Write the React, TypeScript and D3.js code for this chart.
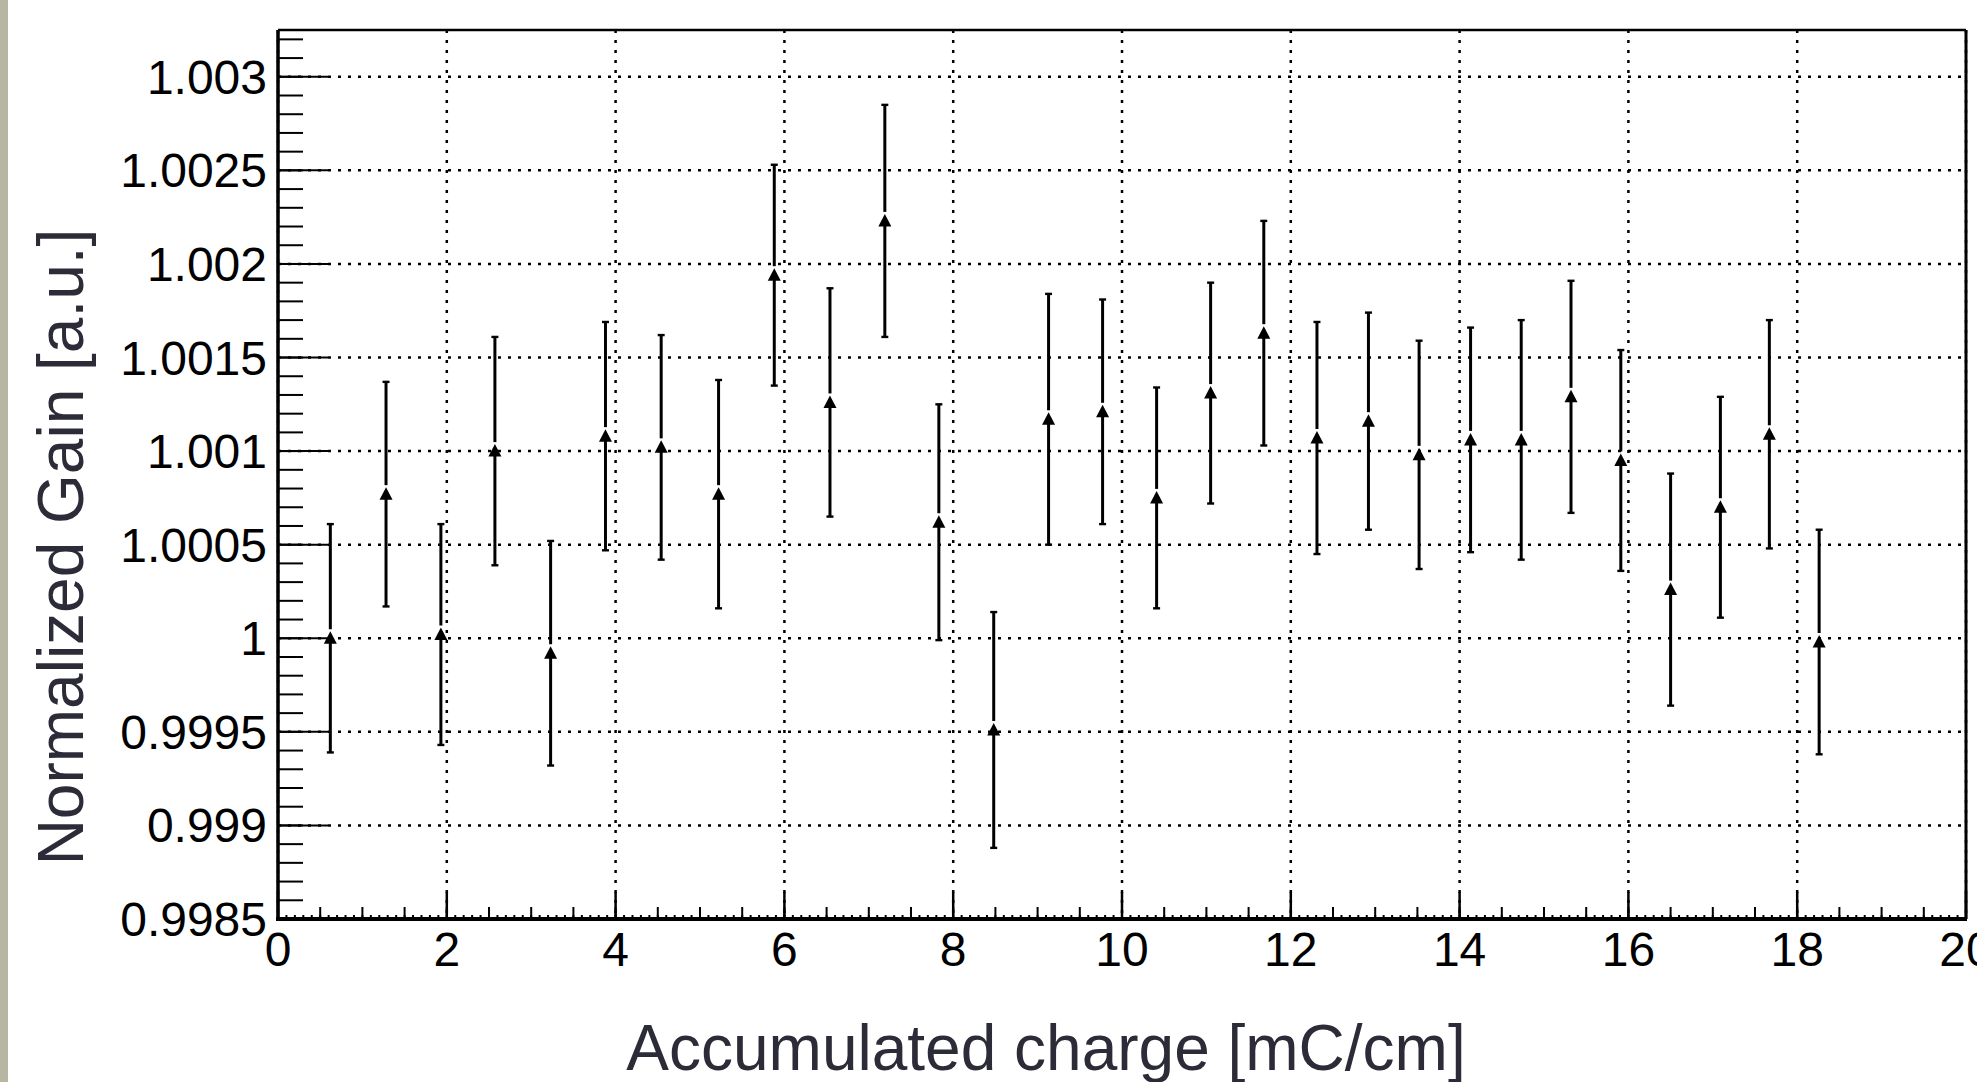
import React from "react";
import * as d3 from "d3";

const xCharge = [0.62, 1.28, 1.93, 2.57, 3.23, 3.88, 4.54, 5.22, 5.88, 6.54, 7.19, 7.83, 8.48, 9.13, 9.77, 10.41, 11.05, 11.68, 12.31, 12.92, 13.52, 14.13, 14.73, 15.32, 15.91, 16.5, 17.09, 17.67, 18.26];
const gainValues = [1.0, 1.00077, 1.00002, 1.001, 0.99992, 1.00108, 1.00102, 1.00077, 1.00194, 1.00126, 1.00223, 1.00062, 0.99951, 1.00117, 1.00121, 1.00075, 1.00131, 1.00163, 1.00107, 1.00116, 1.00098, 1.00106, 1.00106, 1.00129, 1.00095, 1.00026, 1.0007, 1.00109, 0.99998];
const gainErrors = [0.00061, 0.0006, 0.00059, 0.00061, 0.0006, 0.00061, 0.0006, 0.00061, 0.00059, 0.00061, 0.00062, 0.00063, 0.00063, 0.00067, 0.0006, 0.00059, 0.00059, 0.0006, 0.00062, 0.00058, 0.00061, 0.0006, 0.00064, 0.00062, 0.00059, 0.00062, 0.00059, 0.00061, 0.0006];
const xTickLabels = ["0", "2", "4", "6", "8", "10", "12", "14", "16", "18", "20"];
const yTickLabels = ["0.9985", "0.999", "0.9995", "1", "1.0005", "1.001", "1.0015", "1.002", "1.0025", "1.003"];

const FONT = "'Liberation Sans', Arial, Helvetica, sans-serif";

export default function App() {
  const W = 1977, H = 1082;
  const L = 278, R = 1966, T = 30, B = 919;
  const x = d3.scaleLinear().domain([0, 20]).range([L, R]);
  const y = d3.scaleLinear().domain([0.9985, 1.00325]).range([B, T]);

  const yMajor = yTickLabels.map((s) => +s);
  const yMinor = d3.range(0, 48).map((i) => 0.9985 + i * 0.0001).filter((v) => v <= 1.00325);
  const xMajor = xTickLabels.map((s) => +s);
  const xMid = d3.range(0, 41).map((i) => i * 0.5);
  const xSmall = d3.range(0, 201).map((i) => i * 0.1);

  const tri = (cx: number, cy: number) => `M${cx},${cy - 7} L${cx + 6.5},${cy + 5.5} L${cx - 6.5},${cy + 5.5} Z`;

  return (
    <svg width={W} height={H} style={{ position: "absolute", left: 0, top: 0, background: "#fff" }} fontFamily={FONT}>
      <rect x={0} y={0} width={W} height={H} fill="#fff" />
      <rect x={0} y={0} width={8} height={H} fill="#b7b6a2" />

      {/* grid */}
      {xMajor.map((v, i) => (
        <line key={"gx" + i} x1={x(v)} x2={x(v)} y1={T} y2={B} stroke="#000" strokeWidth={2.5} strokeDasharray="3,7" />
      ))}
      {yMajor.map((v, i) => (
        <line key={"gy" + i} x1={L} x2={R} y1={y(v)} y2={y(v)} stroke="#000" strokeWidth={2.5} strokeDasharray="3,7" />
      ))}

      {/* y ticks */}
      {yMinor.map((v, i) => (
        <line key={"ym" + i} x1={L} x2={L + 25} y1={y(v)} y2={y(v)} stroke="#000" strokeWidth={2} />
      ))}
      {yMajor.map((v, i) => (
        <line key={"yM" + i} x1={L} x2={L + 50} y1={y(v)} y2={y(v)} stroke="#000" strokeWidth={2} />
      ))}
      {/* x ticks */}
      {xSmall.map((v, i) => (
        <line key={"xs" + i} x1={x(v)} x2={x(v)} y1={B} y2={B - 4} stroke="#000" strokeWidth={2} />
      ))}
      {xMid.map((v, i) => (
        <line key={"xm" + i} x1={x(v)} x2={x(v)} y1={B} y2={B - 12} stroke="#000" strokeWidth={2} />
      ))}
      {xMajor.map((v, i) => (
        <line key={"xM" + i} x1={x(v)} x2={x(v)} y1={B} y2={B - 27} stroke="#000" strokeWidth={2.5} />
      ))}

      {/* frame */}
      <line x1={L} x2={R} y1={T} y2={T} stroke="#000" strokeWidth={2.5} />
      <line x1={R} x2={R} y1={T} y2={B} stroke="#000" strokeWidth={3} />
      <line x1={L} x2={L} y1={T} y2={B + 2} stroke="#000" strokeWidth={3.5} />
      <line x1={L - 2} x2={R + 1} y1={B} y2={B} stroke="#000" strokeWidth={4} />

      {/* data */}
      {xCharge.map((xv, i) => {
        const cx = x(xv);
        const cy = y(gainValues[i]);
        const yt = y(gainValues[i] + gainErrors[i]);
        const yb = y(gainValues[i] - gainErrors[i]);
        return (
          <g key={"p" + i}>
            <line x1={cx} x2={cx} y1={yt} y2={cy - 9} stroke="#000" strokeWidth={3} />
            <line x1={cx} x2={cx} y1={cy + 4} y2={yb} stroke="#000" strokeWidth={3} />
            <line x1={cx - 3.5} x2={cx + 3.5} y1={yt} y2={yt} stroke="#000" strokeWidth={2.4} />
            <line x1={cx - 3.5} x2={cx + 3.5} y1={yb} y2={yb} stroke="#000" strokeWidth={2.4} />
            <path d={tri(cx, cy)} fill="#000" />
          </g>
        );
      })}

      {/* tick labels */}
      {yTickLabels.map((s, i) => (
        <text key={"yl" + i} x={267} y={y(+s) + 17} textAnchor="end" fontSize={48} fill="#000">
          {s}
        </text>
      ))}
      {xTickLabels.map((s, i) => (
        <text key={"xl" + i} x={x(+s)} y={966} textAnchor="middle" fontSize={48} fill="#000">
          {s}
        </text>
      ))}

      {/* axis titles */}
      <text x={1046} y={1070} textAnchor="middle" fontSize={64} fill="#2c2c38">
        Accumulated charge [mC/cm]
      </text>
      <text transform={`translate(83,547) rotate(-90)`} textAnchor="middle" fontSize={64} fill="#2c2c38">
        Normalized Gain [a.u.]
      </text>
    </svg>
  );
}
